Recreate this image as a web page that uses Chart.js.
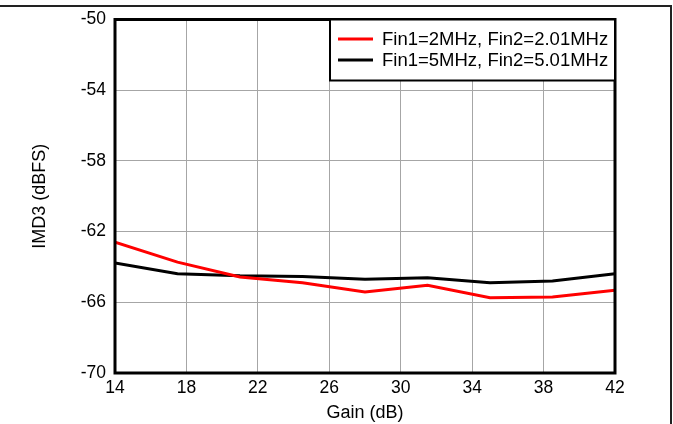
<!DOCTYPE html>
<html>
<head>
<meta charset="utf-8">
<script src="https://cdn.jsdelivr.net/npm/chart.js@4/dist/chart.umd.min.js"></script>
<style>
html,body{margin:0;padding:0;background:#fff;}
#wrap{width:673px;height:424px;position:relative;}
</style>
</head>
<body>
<div id="wrap"><canvas id="c" width="673" height="424"></canvas></div>
<script>
const gain = [14, 17.5, 21, 24.5, 28, 31.5, 35, 38.5, 42];
const imd3_2MHz = [-62.6, -63.73, -64.57, -64.9, -65.42, -65.04, -65.74, -65.7, -65.32];
const imd3_5MHz = [-63.77, -64.38, -64.5, -64.54, -64.7, -64.61, -64.89, -64.8, -64.38];
const seriesLabels = ['Fin1=2MHz, Fin2=2.01MHz', 'Fin1=5MHz, Fin2=5.01MHz'];
const xTicks = [14, 18, 22, 26, 30, 34, 38, 42];
const yTicks = [-50, -54, -58, -62, -66, -70];
const xTitle = 'Gain (dB)';
const yTitle = 'IMD3 (dBFS)';

const FONT = 'Liberation Sans, Arial, sans-serif';

const framePlugin = {
  id: 'frame',
  afterDraw(chart) {
    const ctx = chart.ctx;
    const a = chart.chartArea;
    ctx.save();
    // outer frame lines
    ctx.strokeStyle = '#222';
    ctx.lineWidth = 2;
    ctx.beginPath();
    ctx.moveTo(0, 6);
    ctx.lineTo(671, 6);
    ctx.lineTo(671, 424);
    ctx.stroke();
    // plot border
    ctx.strokeStyle = '#000';
    ctx.lineWidth = 3;
    ctx.strokeRect(a.left, a.top, a.right - a.left, a.bottom - a.top);
    // legend box
    const bx = 330, by = a.top, bw = a.right - bx, bh = 61;
    ctx.fillStyle = '#fff';
    ctx.fillRect(bx, by, bw, bh);
    ctx.lineWidth = 2;
    ctx.strokeRect(bx, by, bw, bh);
    ctx.font = '18.5px ' + FONT;
    ctx.textBaseline = 'middle';
    ctx.textAlign = 'left';
    chart.data.datasets.forEach((ds, i) => {
      const y = 39 + i * 21;
      ctx.strokeStyle = ds.borderColor;
      ctx.lineWidth = 3;
      ctx.beginPath();
      ctx.moveTo(338, y);
      ctx.lineTo(373, y);
      ctx.stroke();
      ctx.fillStyle = '#000';
      ctx.fillText(ds.label, 382, y + 1);
    });
    ctx.restore();
  }
};

new Chart(document.getElementById('c'), {
  type: 'line',
  data: {
    datasets: [
      { label: seriesLabels[0], data: gain.map((g, i) => ({x: g, y: imd3_2MHz[i]})), borderColor: '#ff0000', borderWidth: 3, pointRadius: 0, tension: 0, fill: false },
      { label: seriesLabels[1], data: gain.map((g, i) => ({x: g, y: imd3_5MHz[i]})), borderColor: '#000000', borderWidth: 3, pointRadius: 0, tension: 0, fill: false }
    ]
  },
  options: {
    responsive: false,
    animation: false,
    devicePixelRatio: 1,
    layout: { padding: { left: 0, right: 58, top: 16, bottom: 0 } },
    plugins: { legend: { display: false }, tooltip: { enabled: false } },
    scales: {
      x: {
        type: 'linear', min: 14, max: 42,
        afterBuildTicks(s) { s.ticks = xTicks.map(v => ({value: v})); },
        afterFit(s) { s.height = 424 - 373; },
        grid: { color: '#a6a6a6', lineWidth: 1, drawTicks: false },
        border: { display: false },
        ticks: { color: '#000', font: { family: FONT, size: 17.5 }, padding: 5, maxRotation: 0, autoSkip: false },
        title: { display: true, text: xTitle, color: '#000', font: { family: FONT, size: 18 }, padding: { top: 0, bottom: 0 } }
      },
      y: {
        type: 'linear', min: -70, max: -50,
        afterBuildTicks(s) { s.ticks = yTicks.map(v => ({value: v})); },
        afterFit(s) { s.width = 115; },
        grid: { color: '#a6a6a6', lineWidth: 1, drawTicks: false },
        border: { display: false },
        ticks: { color: '#000', font: { family: FONT, size: 17.5 }, padding: 9, autoSkip: false },
        title: { display: true, text: yTitle, color: '#000', font: { family: FONT, size: 18 }, padding: { top: 29, bottom: 0 } }
      }
    }
  },
  plugins: [framePlugin]
});
</script>
</body>
</html>
